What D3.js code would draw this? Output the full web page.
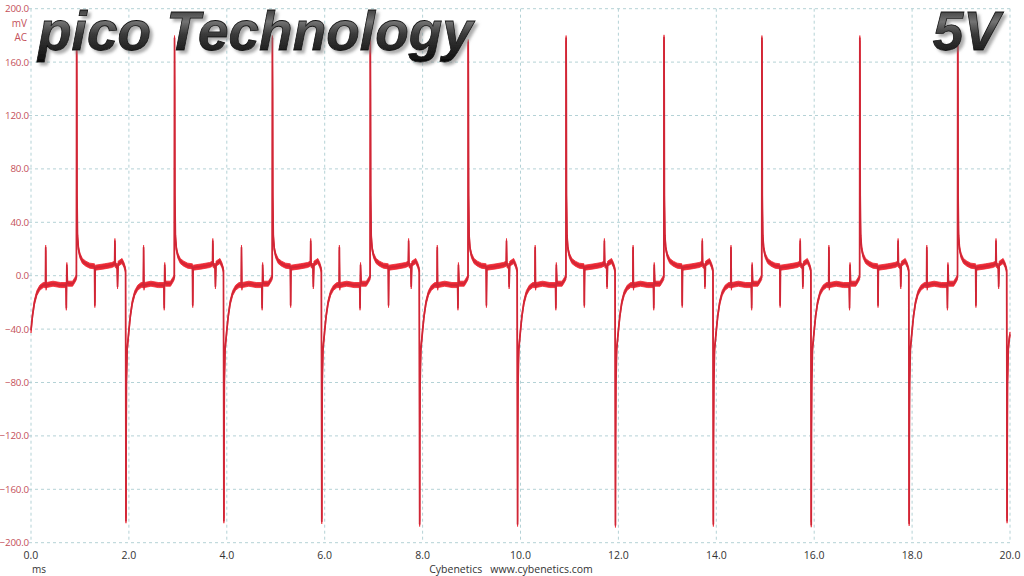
<html>
<head>
<meta charset="utf-8">
<style>
body { margin: 0; background: #ffffff; }
text { font-family: "Open Sans", "Noto Sans", sans-serif; }
</style>
</head>
<body>
<div id="chartContainer"></div>
<script src="https://cdnjs.cloudflare.com/ajax/libs/d3/7.8.5/d3.min.js"></script>
<script type="text/javascript">
    // tick values
    var timeTicks = [0, 2, 4, 6, 8, 10, 12, 14, 16, 18, 20];
    var voltTicks = [200, 160, 120, 80, 40, 0, -40, -80, -120, -160, -200];

    // start of each 2 ms cycle and the spike tops
    var cycleStarts = [0, 2, 4, 6, 8, 10, 12, 14, 16, 18];
    var posPeaks = [176, 178, 178, 176, 175, 178, 178.5, 178, 178, 177];
    var negPeaks = [-183.5, -183.5, -184, -186, -186, -186.7, -186, -186.5, -185.5, -183.5];

    // one cycle of the ripple (ms inside the cycle, mV); "P"/"N" = spike tops above
    var cycleTime = [0.000, 0.030, 0.070, 0.120, 0.180, 0.250, 0.295, 0.300, 0.308, 0.318,
                     0.450, 0.600, 0.715, 0.722, 0.732, 0.745, 0.850, 0.900, 0.928, 0.932,
                     0.936, 0.940, 0.950, 0.970, 1.000, 1.050, 1.120, 1.200, 1.298, 1.304,
                     1.312, 1.500, 1.650, 1.708, 1.714, 1.722, 1.760, 1.768, 1.780, 1.820,
                     1.860, 1.900, 1.932, 1.940, 1.944, 1.950, 1.965, 1.985];
    var cycleVolt = [-41, -30, -20, -13, -9, -7, -7, 21, -9, -7,
                     -6, -7, -7, -24, 8, -6, -6, -3, -1, "P",
                     140, 60, 30, 20, 15, 11, 9, 7.5, 7, -22,
                     6, 7, 8, 9, 26, 8, 7, -8, 9, 10,
                     11, 8, 4, "N", -120, -80, -55, -47];
    var endPoint = [20, -44];
    // half height of the noise band on the trace, mV
    var noise = 1.9;

    var width = 1024, height = 576;
    var svg = d3.select("#chartContainer").append("svg")
        .attr("width", width).attr("height", height);

    var x = d3.scaleLinear().domain([0, 20]).range([31, 1010]);
    var y = d3.scaleLinear().domain([-200, 200]).range([542.7, 8.7]);

    // build the trace from the cycle table
    var trace = [];
    cycleStarts.forEach(function (t0, i) {
        cycleTime.forEach(function (t, j) {
            var v = cycleVolt[j];
            if (v === "P") v = posPeaks[i];
            if (v === "N") v = negPeaks[i];
            trace.push([t0 + t, v]);
        });
    });
    trace.push(endPoint);

    // dashed grid
    var grid = svg.append("g")
        .style("stroke", "#b4d2d6")
        .style("stroke-width", 1)
        .style("stroke-dasharray", "3,3");
    grid.selectAll("line.v").data(timeTicks).enter().append("line")
        .attr("x1", function (d) { return x(d); }).attr("x2", function (d) { return x(d); })
        .attr("y1", y(200)).attr("y2", y(-200));
    grid.selectAll("line.h").data(voltTicks).enter().append("line")
        .attr("x1", 29).attr("x2", x(20))
        .attr("y1", function (d) { return y(d); }).attr("y2", function (d) { return y(d); });

    // y labels
    svg.selectAll("text.ylab").data(voltTicks).enter().append("text")
        .attr("x", 29).attr("y", function (d) { return y(d) + 3.5; })
        .style("text-anchor", "end").style("font-size", "9.8px").style("fill", "#c4505a")
        .style("letter-spacing", "-0.2px")
        .text(function (d) { return d3.format(".1f")(d); });
    svg.append("text").attr("x", 27).attr("y", 27).style("text-anchor", "end")
        .style("font-size", "10px").style("fill", "#c4505a").text("mV");
    svg.append("text").attr("x", 27).attr("y", 41).style("text-anchor", "end")
        .style("font-size", "10px").style("fill", "#c4505a").text("AC");

    // x labels
    svg.selectAll("text.xlab").data(timeTicks).enter().append("text")
        .attr("x", function (d) { return x(d); }).attr("y", 559)
        .style("text-anchor", "middle").style("font-size", "10.5px").style("fill", "#333333")
        .text(function (d) { return d3.format(".1f")(d); });
    svg.append("text").attr("x", 32).attr("y", 573)
        .style("font-size", "10px").style("fill", "#333333").text("ms");
    svg.append("text").attr("x", 511).attr("y", 573).style("text-anchor", "middle")
        .style("font-size", "10.5px").style("fill", "#333333")
        .text("Cybenetics\u00a0\u00a0\u00a0www.cybenetics.com");

    // the trace: a thin noise band plus the line itself
    var band = d3.area()
        .x(function (d) { return x(d[0]); })
        .y0(function (d) { return y(d[1] - noise); })
        .y1(function (d) { return y(d[1] + noise); });
    svg.append("path").datum(trace)
        .attr("d", band)
        .style("fill", "#ee2834")
        .style("stroke", "#ee2834")
        .style("stroke-width", 0.8);
    var line = d3.line()
        .x(function (d) { return x(d[0]); })
        .y(function (d) { return y(d[1]); });
    svg.append("path").datum(trace)
        .attr("d", line)
        .style("fill", "none")
        .style("stroke", "#d02636")
        .style("stroke-width", 1.7)
        .style("stroke-linejoin", "round");

    // big titles with a metallic look and a soft drop shadow
    var defs = svg.append("defs");
    var grad = defs.append("linearGradient").attr("id", "metal")
        .attr("x1", "0").attr("y1", "0").attr("x2", "0").attr("y2", "1");
    grad.append("stop").attr("offset", "0%").attr("stop-color", "#1a1a1a");
    grad.append("stop").attr("offset", "35%").attr("stop-color", "#737373");
    grad.append("stop").attr("offset", "55%").attr("stop-color", "#3a3a3a");
    grad.append("stop").attr("offset", "100%").attr("stop-color", "#0d0d0d");
    var shadow = defs.append("filter").attr("id", "shadow")
        .attr("x", "-5%").attr("y", "-20%").attr("width", "115%").attr("height", "150%");
    shadow.append("feDropShadow").attr("dx", 3).attr("dy", 3)
        .attr("stdDeviation", 1.6).attr("flood-color", "#777777").attr("flood-opacity", 0.6);

    function bigText(tx, ty, anchor, s) {
        svg.append("text").attr("x", tx).attr("y", ty)
            .style("font-family", "'Liberation Sans', Arial, sans-serif")
            .style("font-size", "55px").style("font-weight", "bold").style("font-style", "italic")
            .style("text-anchor", anchor).style("fill", "url(#metal)")
            .style("stroke", "#111111").style("stroke-width", 0.8)
            .attr("filter", "url(#shadow)").text(s);
    }
    bigText(38, 50, "start", "pico Technology");
    bigText(1000, 50, "end", "5V");
</script>
</body>
</html>
